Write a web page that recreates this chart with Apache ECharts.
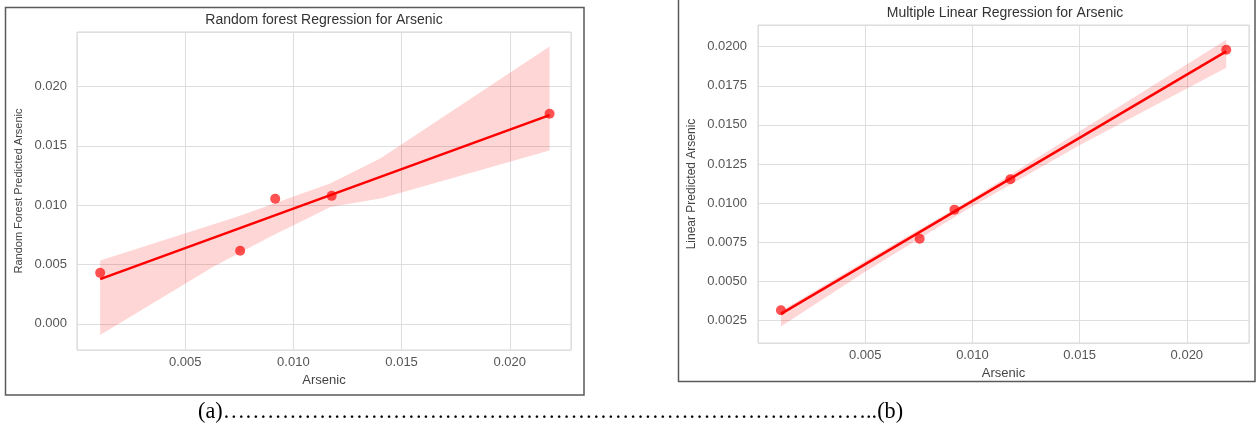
<!DOCTYPE html>
<html>
<head>
<meta charset="utf-8">
<script src="https://cdn.jsdelivr.net/npm/echarts@6/dist/echarts.min.js"></script>
<style>
  html, body { margin: 0; padding: 0; background: #ffffff; }
  #chart { width: 1258px; height: 431px; }
</style>
</head>
<body>
<div id="chart"></div>
<script>
// Measured arsenic of the five samples (shared by both panels)
const arsenic = [0.00107, 0.00754, 0.00916, 0.01177, 0.02184];
// Random forest predictions for the same samples
const rfPredicted = [0.0043, 0.00616, 0.01054, 0.01079, 0.01771];
// Multiple linear regression predictions
const linPredicted = [0.00314, 0.00772, 0.00958, 0.01152, 0.01981];

// Confidence band around the random forest fit (upper and lower edges)
const rfUpperX = [0.00107, 0.00743, 0.01172, 0.01403, 0.02184];
const rfUpperY = [0.00534, 0.00905, 0.01186, 0.01397, 0.02338];
const rfLowerX = [0.00107, 0.00632, 0.00895, 0.01172, 0.01403, 0.02184];
const rfLowerY = [-0.00093, 0.00483, 0.00737, 0.00986, 0.01057, 0.01461];

// Confidence band around the linear regression fit
const linBandX = [0.00107, 0.005, 0.010, 0.015, 0.02184];
const linUpperY = [0.0031, 0.0063, 0.0103, 0.0146, 0.02045];
const linLowerY = [0.0021, 0.0056, 0.0098, 0.0137, 0.01866];

// Tick steps of the axes
const xStep = 0.005;
const rfYStep = 0.005;
const linYStep = 0.0025;

const RED = '#ff0000';
const GRID_LINE = '#dedede';
const TICK_COLOR = '#555555';
const NAME_COLOR = '#444444';
const FONT = '"Liberation Sans", Arial, sans-serif';

// Least-squares line through the points, spanning the data range
function fitLine(xs, ys) {
  const n = xs.length;
  const mx = xs.reduce((a, b) => a + b, 0) / n;
  const my = ys.reduce((a, b) => a + b, 0) / n;
  let sxy = 0, sxx = 0;
  for (let i = 0; i < n; i++) {
    sxy += (xs[i] - mx) * (ys[i] - my);
    sxx += (xs[i] - mx) * (xs[i] - mx);
  }
  const slope = sxy / sxx;
  const icpt = my - slope * mx;
  const x0 = Math.min(...xs), x1 = Math.max(...xs);
  return [[x0, icpt + slope * x0], [x1, icpt + slope * x1]];
}

function pairs(xs, ys) { return xs.map((x, i) => [x, ys[i]]); }

// Polygon band drawn through the axis scales
function bandSeries(upX, upY, loX, loY, idx) {
  return {
    type: 'custom',
    xAxisIndex: idx,
    yAxisIndex: idx,
    silent: true,
    z: 1,
    data: [[upX[0], upY[0]]],
    renderItem: function (params, api) {
      const pts = [];
      for (let i = 0; i < upX.length; i++) pts.push(api.coord([upX[i], upY[i]]));
      for (let i = loX.length - 1; i >= 0; i--) pts.push(api.coord([loX[i], loY[i]]));
      return {
        type: 'polygon',
        shape: { points: pts },
        style: { fill: 'rgba(255, 0, 0, 0.16)', stroke: 'none' }
      };
    }
  };
}

function stepFormatter(step, digits, hideZero) {
  return function (v) {
    const k = v / step;
    if (Math.abs(k - Math.round(k)) > 1e-6) return '';
    if (hideZero && Math.abs(v) < 1e-12) return '';
    return v.toFixed(digits);
  };
}

function valueAxis(opts) {
  return Object.assign({
    type: 'value',
    axisLine: { show: false },
    axisTick: { show: false },
    splitLine: { show: true, lineStyle: { color: GRID_LINE, width: 1 } },
    nameLocation: 'middle',
    nameTextStyle: { color: NAME_COLOR, fontFamily: FONT },
  }, opts);
}

const chart = echarts.init(document.getElementById('chart'), null, { renderer: 'canvas' });

chart.setOption({
  backgroundColor: '#ffffff',
  animation: false,
  grid: [
    { left: 77, top: 32, width: 494, height: 318, show: true, borderColor: '#d6d6d6', borderWidth: 1, backgroundColor: 'transparent' },
    { left: 758, top: 25, width: 491, height: 318, show: true, borderColor: '#d6d6d6', borderWidth: 1, backgroundColor: 'transparent' }
  ],
  xAxis: [
    valueAxis({
      gridIndex: 0, min: 0, max: 0.02283,
      minInterval: xStep, maxInterval: xStep, splitNumber: 5,
      name: 'Arsenic', nameGap: 21,
      nameTextStyle: { color: NAME_COLOR, fontFamily: FONT, fontSize: 13 },
      axisLabel: { color: TICK_COLOR, fontSize: 13, fontFamily: FONT, margin: 6,
        formatter: stepFormatter(xStep, 3, true) }
    }),
    valueAxis({
      gridIndex: 1, min: 0, max: 0.0229,
      minInterval: xStep, maxInterval: xStep, splitNumber: 5,
      name: 'Arsenic', nameGap: 21,
      nameTextStyle: { color: NAME_COLOR, fontFamily: FONT, fontSize: 13 },
      axisLabel: { color: TICK_COLOR, fontSize: 13, fontFamily: FONT, margin: 6,
        formatter: stepFormatter(xStep, 3, true) }
    })
  ],
  yAxis: [
    valueAxis({
      gridIndex: 0, min: -0.0022, max: 0.0246,
      minInterval: rfYStep, maxInterval: rfYStep, splitNumber: 5,
      name: 'Random Forest Predicted Arsenic', nameGap: 53,
      nameTextStyle: { color: NAME_COLOR, fontFamily: FONT, fontSize: 11 },
      axisLabel: { color: TICK_COLOR, fontSize: 13, fontFamily: FONT, margin: 10,
        formatter: stepFormatter(rfYStep, 3, false) }
    }),
    valueAxis({
      gridIndex: 1, min: 0.00105, max: 0.02139,
      minInterval: linYStep, maxInterval: linYStep, splitNumber: 8,
      name: 'Linear Predicted Arsenic', nameGap: 60,
      nameTextStyle: { color: NAME_COLOR, fontFamily: FONT, fontSize: 12 },
      axisLabel: { color: TICK_COLOR, fontSize: 13, fontFamily: FONT, margin: 11,
        formatter: stepFormatter(linYStep, 4, false) }
    })
  ],
  series: [
    bandSeries(rfUpperX, rfUpperY, rfLowerX, rfLowerY, 0),
    {
      type: 'line', xAxisIndex: 0, yAxisIndex: 0, z: 3,
      data: fitLine(arsenic, rfPredicted),
      symbol: 'none', silent: true,
      lineStyle: { color: RED, width: 2.5 }
    },
    {
      type: 'scatter', xAxisIndex: 0, yAxisIndex: 0, z: 4,
      data: pairs(arsenic, rfPredicted),
      symbolSize: 10, silent: true,
      itemStyle: { color: 'rgba(255, 0, 0, 0.85)' }
    },
    bandSeries(linBandX, linUpperY, linBandX, linLowerY, 1),
    {
      type: 'line', xAxisIndex: 1, yAxisIndex: 1, z: 3,
      data: fitLine(arsenic, linPredicted),
      symbol: 'none', silent: true,
      lineStyle: { color: RED, width: 2.5 }
    },
    {
      type: 'scatter', xAxisIndex: 1, yAxisIndex: 1, z: 4,
      data: pairs(arsenic, linPredicted),
      symbolSize: 10, silent: true,
      itemStyle: { color: 'rgba(255, 0, 0, 0.85)' }
    }
  ],
  graphic: [
    // panel frames
    { type: 'rect', silent: true, z: 10,
      shape: { x: 5.5, y: 7.5, width: 578.5, height: 387.5 },
      style: { fill: 'none', stroke: '#5a5a5a', lineWidth: 1.5 } },
    { type: 'rect', silent: true, z: 10,
      shape: { x: 678.5, y: -5, width: 576.5, height: 386.5 },
      style: { fill: 'none', stroke: '#5a5a5a', lineWidth: 1.5 } },
    // panel titles
    { type: 'text', silent: true, x: 324, y: 20,
      style: { text: 'Random forest Regression for Arsenic', fill: '#333333',
        font: '14px ' + FONT, align: 'center', verticalAlign: 'middle' } },
    { type: 'text', silent: true, x: 1005, y: 13,
      style: { text: 'Multiple Linear Regression for Arsenic', fill: '#333333',
        font: '14px ' + FONT, align: 'center', verticalAlign: 'middle' } },
    // sub-figure caption
    { type: 'text', silent: true, x: 198, y: 412,
      style: { text: '(a)' + '\u2026'.repeat(29) + '..(b)', fill: '#000000',
        font: '22.2px "Liberation Serif", "Times New Roman", serif', align: 'left', verticalAlign: 'middle' } }
  ]
});
</script>
</body>
</html>
